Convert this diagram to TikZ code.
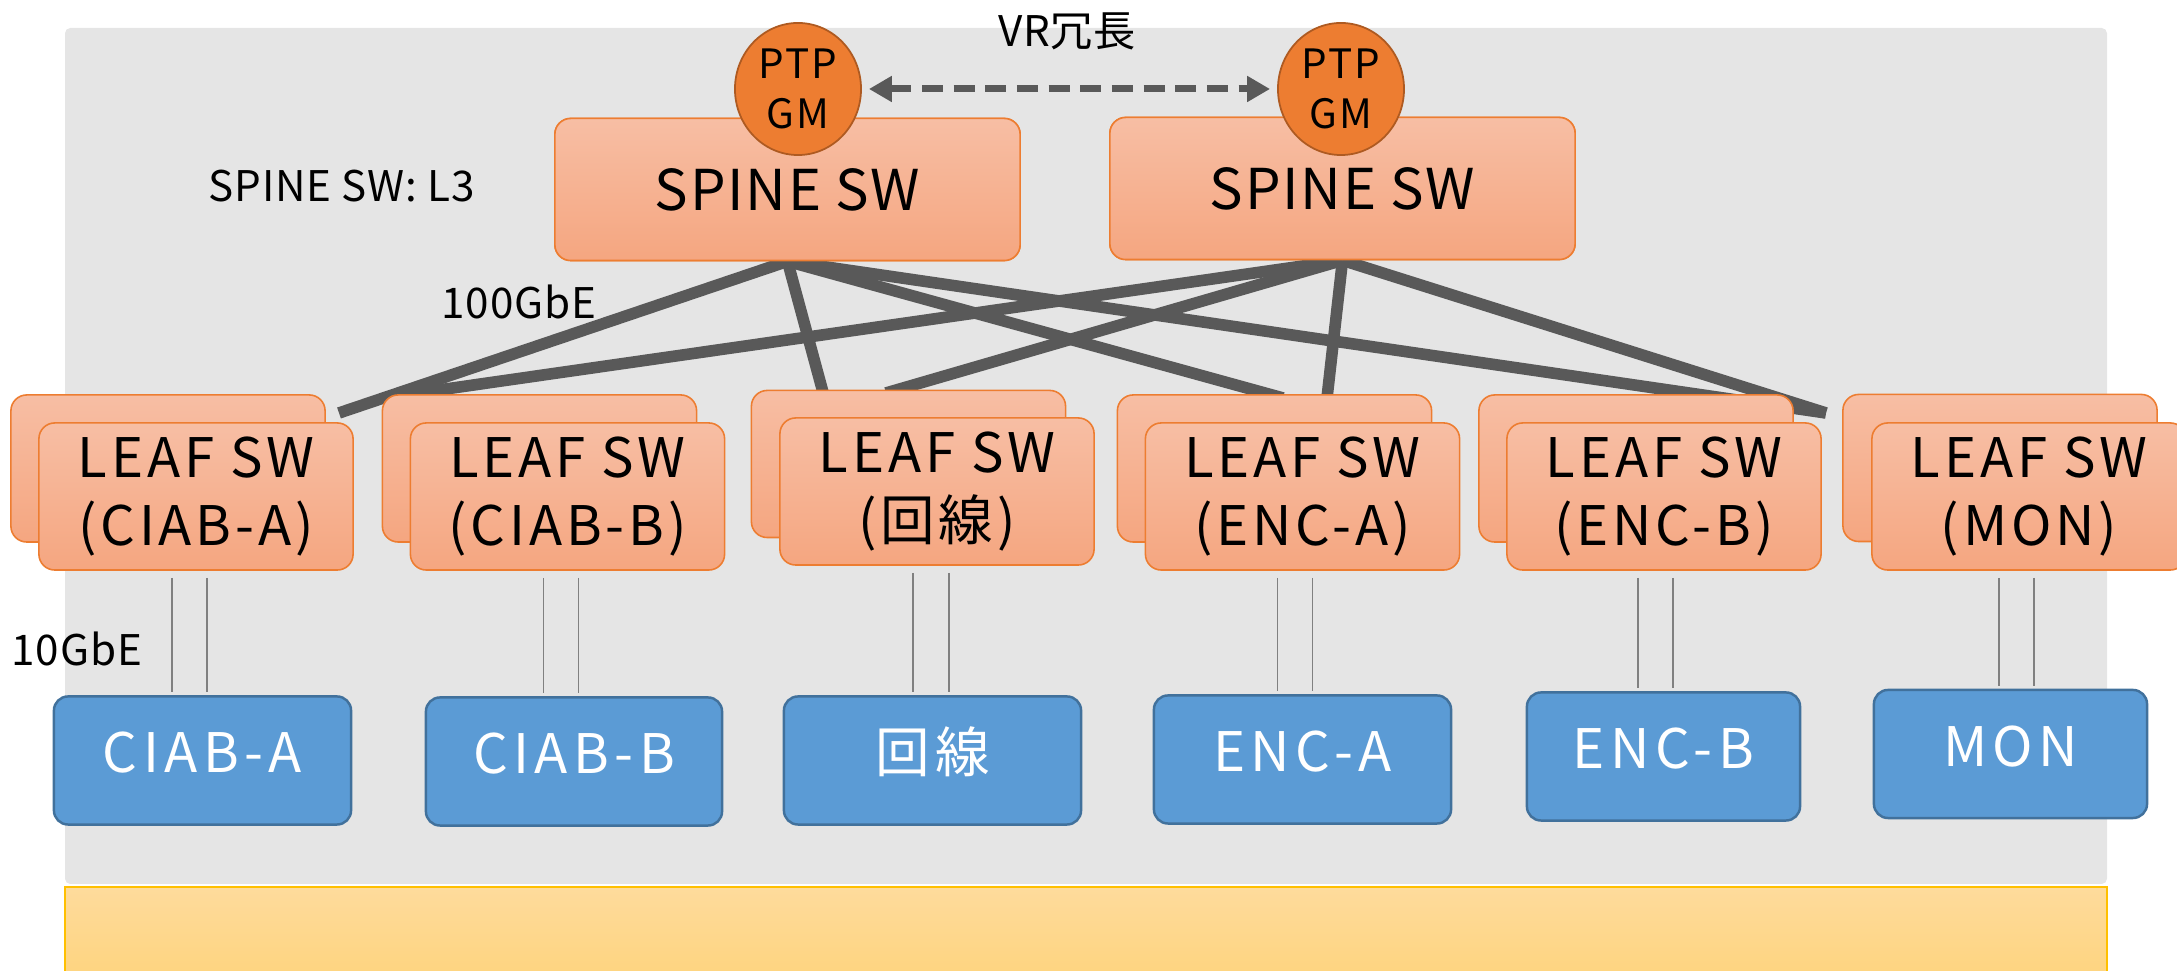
\documentclass[tikz,border=0pt]{standalone}
\usepackage{fontspec}
\setmainfont{Noto Sans CJK JP}
\newfontfamily\spinefont{Noto Sans CJK JP}[LetterSpace=3]
\newfontfamily\leaffont{Noto Sans CJK JP}[LetterSpace=7]
\newfontfamily\hostfont{Noto Sans CJK JP}[LetterSpace=10]
\newfontfamily\gmfont{Noto Sans CJK JP}[LetterSpace=5]
\newfontfamily\labelfont{Noto Sans CJK JP}[LetterSpace=2]
\usetikzlibrary{arrows.meta,calc,shapes.geometric}

\definecolor{panelgray}{HTML}{E5E5E5}
\definecolor{swtop}{HTML}{F7BEA4}
\definecolor{swbot}{HTML}{F5A680}
\definecolor{swedge}{HTML}{ED7D31}
\definecolor{gmfill}{HTML}{ED7D31}
\definecolor{gmedge}{HTML}{AE5A21}
\definecolor{hostfill}{HTML}{5B9BD5}
\definecolor{hostedge}{HTML}{41719C}
\definecolor{linkgray}{HTML}{595959}
\definecolor{thingray}{HTML}{808080}
\definecolor{bandtop}{HTML}{FEDB9C}
\definecolor{bandbot}{HTML}{FED47E}
\definecolor{bandedge}{HTML}{FFC000}

\tikzset{
  swbox/.style={draw=swedge, line width=0.45pt, rounded corners=4.5pt,
    top color=swtop, bottom color=swbot, inner sep=0pt, align=center,
    font=\leaffont\fontsize{15.5}{19.1}\selectfont},
  spinebox/.style={swbox, minimum width=4.65cm, minimum height=1.42cm,
    font=\spinefont\fontsize{16}{19}\selectfont},
  leafbox/.style={swbox, minimum width=3.14cm, minimum height=1.47cm},
  hostbox/.style={draw=hostedge, line width=0.7pt, fill=hostfill,
    rounded corners=4pt, text=white, inner sep=0pt,
    text height=0.40cm, text depth=0.15cm,
    minimum height=1.28cm, font=\hostfont\fontsize{15.5}{19}\selectfont},
  gmnode/.style={ellipse, draw=gmedge, line width=0.5pt, fill=gmfill,
    minimum width=1.26cm, minimum height=1.32cm, inner sep=0pt,
    align=center, font=\gmfont\fontsize{11.5}{14.2}\selectfont},
  uplink/.style={draw=linkgray, line width=3.3pt, line cap=butt},
  downlink/.style={draw=thingray, line width=0.45pt},
  vrlink/.style={draw=linkgray, line width=2pt,
    dash pattern=on 6pt off 3pt,
    {Triangle[length=6.5pt,width=7pt]}-{Triangle[length=6.5pt,width=7pt]}},
  lbl/.style={inner sep=0pt, font=\labelfont\fontsize{12}{14}\selectfont},
}

\begin{document}
\begin{tikzpicture}[x=0.01cm, y=-0.01cm]
\useasboundingbox (0,0) rectangle (2177,971);

% background panels
\fill[panelgray, rounded corners=1.5pt] (65,28) rectangle (2107,884);
\shade[top color=bandtop, bottom color=bandbot] (65,887) rectangle (2107,980);
\draw[bandedge, line width=0.4pt] (65,980) -- (65,887) -- (2107,887) -- (2107,980);

% spine switches (placed first so the uplinks can start from them)
\node[spinebox] (s1) at (787.5,189.5) {SPINE SW};
\node[spinebox] (s2) at (1342.5,188.5) {SPINE SW};

% uplink end points on the leaf layer
\coordinate (pA)  at (339,413);
\coordinate (pB)  at (1826,413);
\coordinate (e13) at (824,396);
\coordinate (e14) at (1283,398);
\coordinate (e22) at (390,397);
\coordinate (e23) at (886,393);
\coordinate (e24) at (1327,398);

% 100GbE uplinks
\draw[uplink] (s1.south) -- (pA);
\draw[uplink] (s1.south) -- (e13);
\draw[uplink] (s1.south) -- (e14);
\draw[uplink] (s1.south) -- (pB);
\draw[uplink] (s2.south) -- (e22);
\draw[uplink] (s2.south) -- (e23);
\draw[uplink] (s2.south) -- (e24);
\draw[uplink] (s2.south) -- (pB);

% redraw spine boxes over the link ends
\node[spinebox] at (s1) {SPINE SW};
\node[spinebox] at (s2) {SPINE SW};

% PTP grandmasters
\node[gmnode] (g1) at (798,89) {PTP\\GM};
\node[gmnode] (g2) at (1341,89) {PTP\\GM};
\draw[vrlink] ([xshift=2pt]g1.east) -- ([xshift=-2pt]g2.west);

% leaf switches (redundant pairs)
\node[leafbox] (lb1) at (168,468.5) {};
\node[leafbox] (lf1) at (196,496.5) {LEAF SW\\(CIAB-A)};
\node[leafbox] (lb2) at (539.5,468.5) {};
\node[leafbox] (lf2) at (567.5,496.5) {LEAF SW\\(CIAB-B)};
\node[leafbox] (lb3) at (908.5,464) {};
\node[leafbox] (lf3) at (937,491.5) {LEAF SW\\(回線)};
\node[leafbox] (lb4) at (1274.5,468.5) {};
\node[leafbox] (lf4) at (1302.5,496.5) {LEAF SW\\(ENC-A)};
\node[leafbox] (lb5) at (1636,468.5) {};
\node[leafbox] (lf5) at (1664,496.5) {LEAF SW\\(ENC-B)};
\node[leafbox] (lb6) at (2000,468) {};
\node[leafbox] (lf6) at (2029,496.5) {LEAF SW\\(MON)};

% end hosts
\node[hostbox, minimum width=2.97cm] (h1) at (202.5,760.5) {CIAB-A};
\node[hostbox, minimum width=2.96cm] (h2) at (574,761.5) {CIAB-B};
\node[hostbox, minimum width=2.97cm] (h3) at (932.5,760.5) {回線};
\node[hostbox, minimum width=2.97cm] (h4) at (1302.5,759.5) {ENC-A};
\node[hostbox, minimum width=2.73cm] (h5) at (1663.5,756.5) {ENC-B};
\node[hostbox, minimum width=2.73cm] (h6) at (2010.5,754) {MON};

% 10GbE downlinks, two per leaf
\foreach \i/\a/\b in {1/-24/11, 2/-24/11, 3/-24/12, 4/-25/10, 5/-26/9, 6/-30/5} {
  \draw[downlink] ($(lf\i.south)+(\a,7)$) -- ($(lf\i.south |- h\i.north)+(\a,-3)$);
  \draw[downlink] ($(lf\i.south)+(\b,7)$) -- ($(lf\i.south |- h\i.north)+(\b,-3)$);
}

% labels
\node[lbl, anchor=base] (vr) at (1067,47) {VR冗長};
\node[lbl, anchor=base west] (l3) at (208,202) {SPINE SW: L3};
\node[lbl, anchor=base west] (g100) at (441,319) {100GbE};
\node[lbl, anchor=base west] (g10) at (11,666) {10GbE};
\end{tikzpicture}
\end{document}
